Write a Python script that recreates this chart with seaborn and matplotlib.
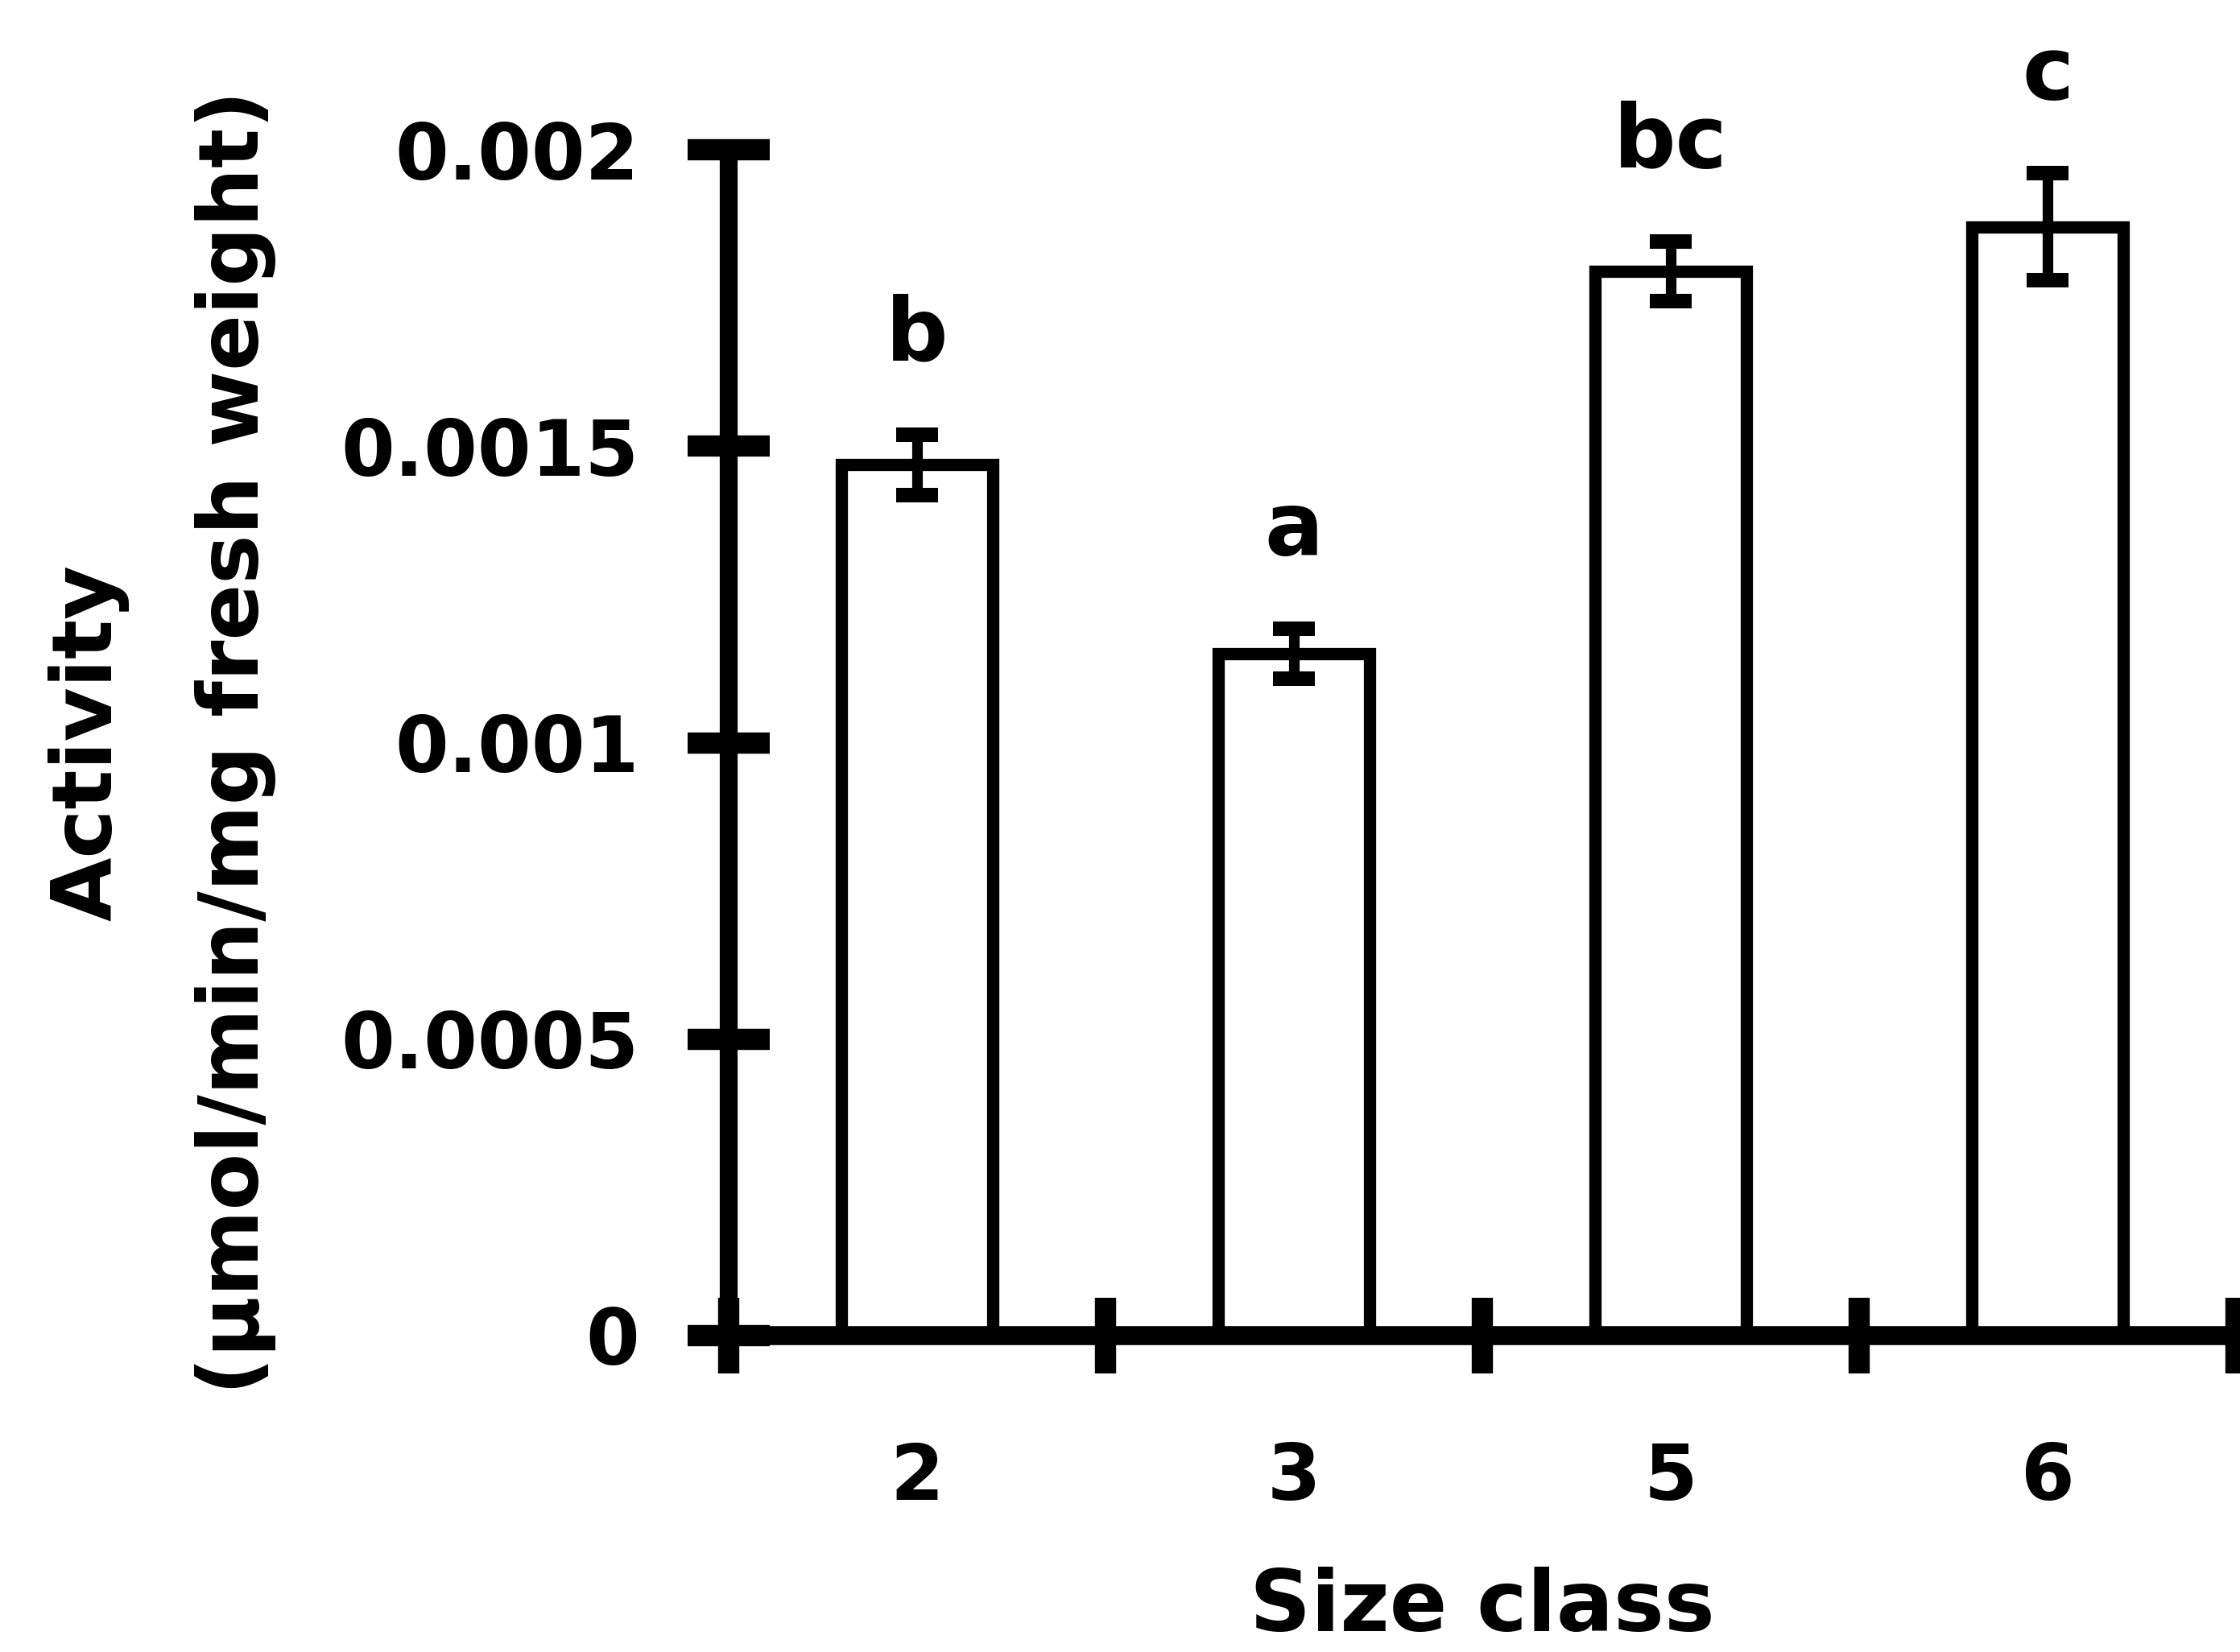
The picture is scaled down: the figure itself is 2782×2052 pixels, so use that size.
import numpy as np
import pandas as pd
import matplotlib
matplotlib.use("Agg")
import matplotlib.pyplot as plt
import seaborn as sns

# ---- data ----
size_classes = ["2", "3", "5", "6"]
activity = [0.001469, 0.001150, 0.001795, 0.001870]
sem = [0.000051, 0.000042, 0.000050, 0.000090]
letters = ["b", "a", "bc", "c"]
y_ticks = [0, 0.0005, 0.001, 0.0015, 0.002]
y_tick_labels = ["0", "0.0005", "0.001", "0.0015", "0.002"]

sns.set_style("ticks")
plt.rcParams["font.family"] = ["DejaVu Sans"]

W, H = 2782, 2052
fig = plt.figure(figsize=(W / 100, H / 100), dpi=100)
y_top = 0.002 * 1659 / 1473
ax = fig.add_axes([905 / W, (H - 1659) / H, (2777 - 905) / W, 1659 / H])

df = pd.DataFrame({"size": size_classes, "activity": activity})
sns.barplot(data=df, x="size", y="activity", ax=ax, width=0.40,
            color="white", edgecolor="black", linewidth=11,
            errorbar=None, saturation=1)

xpos = np.arange(len(size_classes))
ax.errorbar(xpos, activity, yerr=sem, fmt="none", ecolor="black",
            elinewidth=9.5, capsize=18.5, capthick=13, zorder=5)

for x, m, e, lab in zip(xpos, activity, sem, letters):
    ax.text(x, m + e + 0.000125, lab, ha="center", va="baseline",
            fontsize=78, fontweight="bold", color="black")

ax.set_xlim(-0.5, len(size_classes) - 0.5)
ax.set_ylim(0, y_top)

# y axis
ax.set_yticks(y_ticks, labels=y_tick_labels)
ax.tick_params(axis="y", which="major", direction="inout", length=74,
               width=19, color="black", pad=43, labelsize=69,
               labelcolor="black")
for lbl in ax.get_yticklabels():
    lbl.set_fontweight("bold")

# x axis: labels at centres, tick marks at boundaries
ax.set_xticks(xpos, labels=size_classes)
ax.set_xticks(np.arange(-0.5, len(size_classes)), minor=True)
ax.tick_params(axis="x", which="major", length=0, pad=94, labelsize=69,
               labelcolor="black")
ax.tick_params(axis="x", which="minor", direction="inout", length=67,
               width=19, color="black")
for lbl in ax.get_xticklabels():
    lbl.set_fontweight("bold")

ax.set_xlabel("")
ax.set_ylabel("")

for s in ["top", "right"]:
    ax.spines[s].set_visible(False)
ax.spines["left"].set_linewidth(16)
ax.spines["left"].set_bounds(0, 0.002)
ax.spines["bottom"].set_linewidth(17)
for s in ["left", "bottom"]:
    ax.spines[s].set_color("black")
    ax.spines[s].set_capstyle("round")

ax.set_facecolor("white")
fig.patch.set_facecolor("white")

fig.text(1841 / W, 4 / H, "Size class", ha="center", va="bottom",
         fontsize=76, fontweight="bold", color="black")
fig.text(110 / W, 1 - 922 / H, "Activity", ha="center", va="center",
         rotation=90, fontsize=74, fontweight="bold", color="black")
fig.text(293 / W, 1 - 922 / H, "(µmol/min/mg fresh weight)", ha="center",
         va="center", rotation=90, fontsize=74, fontweight="bold",
         color="black")

fig.savefig("out.png", dpi=100, facecolor="white")
